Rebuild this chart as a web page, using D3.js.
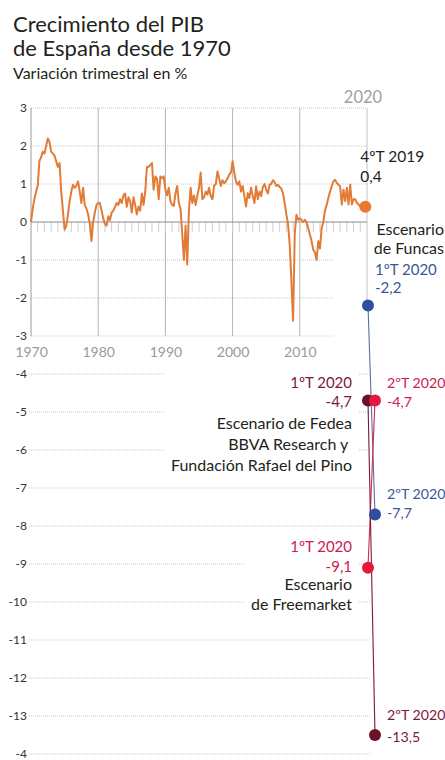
<!DOCTYPE html>
<html>
<head>
<meta charset="utf-8">
<script src="https://cdn.jsdelivr.net/npm/d3@7"></script>
<style>
  body { margin: 0; background: #fff; }
  text { font-family: Lato, "Open Sans", sans-serif; }
</style>
</head>
<body>
<svg id="chart"></svg>
<script>
// quarterly GDP growth, %
var gdp1970s = [0.0,0.35,0.6,0.8, 0.95,1.6,1.7,1.85, 1.8,2.0,2.2,2.1, 1.85,1.8,1.75,1.6,
  1.45,1.55,0.8,0.3, -0.2,-0.1,0.2,0.55, 0.8,0.98,0.9,0.95, 1.07,0.8,0.5,0.9,
  0.45,0.35,0.2,-0.05, -0.5,0.0,0.25,0.45];
var gdp1980s = [0.5,0.5,0.3,0.1, -0.05,-0.1,0.15,0.05, 0.25,0.3,0.4,0.5, 0.45,0.6,0.5,0.7,
  0.75,0.4,0.65,0.55, 0.25,0.65,0.45,0.2, 0.4,0.3,0.75,0.45, 0.8,1.45,1.45,1.5,
  1.55,0.85,1.2,1.15, 0.6,1.2,1.15,1.2];
var gdp1990s = [0.85,0.7,0.9,0.55, 0.45,0.42,0.75,0.95, 0.5,0.35,-0.3,-1.0, -0.1,-1.12,0.3,0.9,
  0.5,0.7,0.45,0.7, 0.9,1.3,0.6,0.65, 0.8,0.72,0.9,0.68, 0.6,0.95,1.0,1.33,
  1.15,0.95,1.1,1.02, 1.07,1.15,1.25,1.3];
var gdp2000s = [1.6,1.3,1.07,0.98, 1.07,0.8,0.95,0.68, 0.41,0.76,0.63,0.9, 0.68,0.5,0.94,0.6,
  0.8,0.68,0.92,1.0, 0.85,0.75,0.98,1.0, 1.1,1.05,0.95,0.98, 0.92,0.88,0.75,0.5,
  0.2,-0.05,-0.6,-1.56, -2.6,-0.3,0.19,0.06];
var gdp2010s = [0.1,0.06,0.0,0.06, 0.0,-0.16,-0.33,-0.5, -0.73,-0.8,-1.0,-0.5, -0.7,-0.16,0.0,0.3,
  0.45,0.63,0.8,0.94, 1.07,1.11,1.03,0.98, 0.94,0.46,0.85,0.55, 0.9,0.46,0.98,0.46,
  0.6,0.6,0.5,0.46, 0.41,0.42,0.4,0.4];

var startYear = 1970;
var decades = [1970, 1980, 1990, 2000, 2010];
var yTicks = [3,2,1,0,-1,-2,-3,-4,-5,-6,-7,-8,-9,-10,-11,-12,-13,-14];
var yTickLabels = ["3","2","1","0","-1","-2","-3","-4","-5","-6","-7","-8","-9","-10","-11","-12","-13","-4"];

// forecasts for 2020
var quarters = ["1ºT 2020", "2ºT 2020"];
var funcas = [-2.2, -7.7];
var fedea = [-4.7, -13.5];
var freemarket = [-9.1, -4.7];
var lastLabel = "4ºT 2019";

var W = 445, H = 760;
var svg = d3.select('#chart').attr('width', W).attr('height', H);

var x = d3.scaleLinear().domain([1970, 2020]).range([31, 367]);
var y = d3.scaleLinear().domain([3, -14]).range([108, 754]);
var xq = d3.scalePoint().domain(quarters).range([x(2020) + 1, x(2020) + 8]);
var fmt = function(v){ return String(v).replace('.', ','); };

var data = [].concat(gdp1970s, gdp1980s, gdp1990s, gdp2000s, gdp2010s).map(function(v, i){
  return {date: startYear + i/4, value: v};
});
var last = data[data.length-1];

// title
svg.append('text').attr('x',13).attr('y',32).attr('font-size',22).attr('fill','#231f20').text('Crecimiento del PIB');
svg.append('text').attr('x',13).attr('y',56).attr('font-size',22).attr('fill','#231f20').text('de España desde 1970');
svg.append('text').attr('x',13).attr('y',79).attr('font-size',16).attr('fill','#231f20').text('Variación trimestral en %');

var gridG = svg.append('g');
var maskG = svg.append('g');
var lineG = svg.append('g');
var dotG = svg.append('g');
var labelG = svg.append('g');

// horizontal grid
gridG.selectAll('.hgrid')
  .data(yTicks.filter(function(d){ return d !== 0; }))
  .enter().append('line')
  .attr('x1', function(d){ return d >= -3 ? x(1970) : 29; })
  .attr('x2', function(d){ return d > 0 ? x(2020) : (d >= -3 ? x(2015) : x(2020) + 4); })
  .attr('y1', function(d){ return y(d); })
  .attr('y2', function(d){ return y(d); })
  .attr('stroke', '#c8c8c8')
  .attr('stroke-dasharray', '1,1');

// decade lines
gridG.selectAll('.vgrid')
  .data(decades)
  .enter().append('line')
  .attr('x1', function(d){ return x(d); }).attr('x2', function(d){ return x(d); })
  .attr('y1', y(3)).attr('y2', y(-3))
  .attr('stroke', function(d){ return d === 1970 ? '#9a9a9a' : '#b4b4b4'; });

gridG.append('line')
  .attr('x1', x(2020)).attr('x2', x(2020))
  .attr('y1', y(3)).attr('y2', y(funcas[0]))
  .attr('stroke', '#c4c4c4');

// yearly ticks under zero line
gridG.selectAll('.ytick')
  .data(d3.range(1971, 2020))
  .enter().append('line')
  .attr('x1', function(d){ return x(d); }).attr('x2', function(d){ return x(d); })
  .attr('y1', y(0)).attr('y2', y(0) + 10)
  .attr('stroke', '#cfcfcf');

gridG.append('line')
  .attr('x1', x(1970)).attr('x2', x(2020))
  .attr('y1', y(0)).attr('y2', y(0))
  .attr('stroke', '#8c8c8c');

// y axis labels
var yAxis = svg.append('g')
  .attr('transform', 'translate(28,0)')
  .call(d3.axisLeft(y).tickValues(yTicks).tickSize(0).tickPadding(1)
    .tickFormat(function(d, i){ return yTickLabels[i]; }));
yAxis.select('.domain').remove();
yAxis.selectAll('text').attr('font-size', 12).attr('fill', '#333').style('font-family', 'Lato, sans-serif');

// x axis labels
var xAxis = svg.append('g')
  .attr('transform', 'translate(0,' + y(-3) + ')')
  .call(d3.axisBottom(x).tickValues(decades).tickSize(0).tickPadding(11).tickFormat(d3.format('d')));
xAxis.select('.domain').remove();
xAxis.selectAll('text').attr('font-size', 14).attr('fill', '#9a9a9a').style('font-family', 'Lato, sans-serif');

svg.append('text').attr('x', x(2020) - 4).attr('y', 103).attr('text-anchor', 'middle')
  .attr('font-size', 16.5).attr('fill', '#a0a0a0').text('2020');

// GDP line
var line = d3.line()
  .x(function(d){ return x(d.date); })
  .y(function(d){ return y(d.value); });

lineG.append('path')
  .datum(data)
  .attr('fill', 'none')
  .attr('stroke', '#e27b36')
  .attr('stroke-width', 2)
  .attr('stroke-linejoin', 'round')
  .attr('d', line);

dotG.append('circle').attr('cx', x(last.date)).attr('cy', y(last.value)).attr('r', 6).attr('fill', '#e8792f');

// scenarios
var scen = [
  {name: 'funcas', vals: funcas, dot: '#2f4e9e', stroke: '#5b6ea8', text: '#3b5798'},
  {name: 'freemarket', vals: freemarket, dot: '#e5193f', stroke: '#d6284f', text: '#c8204c'},
  {name: 'fedea', vals: fedea, dot: '#6b1128', stroke: '#7a1a35', text: '#7a1a35'}
];

var sline = d3.line()
  .x(function(d){ return xq(d.q); })
  .y(function(d){ return y(d.v); });

scen.forEach(function(s){
  var pts = s.vals.map(function(v, i){ return {q: quarters[i], v: v}; });
  lineG.append('path').datum(pts)
    .attr('fill', 'none').attr('stroke', s.stroke).attr('stroke-width', 1.1)
    .attr('d', sline);
});

// dots: maroon 1T under crimson 2T
var dotOrder = [
  {s: scen[0], i: 0}, {s: scen[0], i: 1},
  {s: scen[2], i: 0}, {s: scen[1], i: 1},
  {s: scen[1], i: 0}, {s: scen[2], i: 1}
];
dotOrder.forEach(function(d){
  dotG.append('circle')
    .attr('cx', xq(quarters[d.i])).attr('cy', y(d.s.vals[d.i]))
    .attr('r', 6).attr('fill', d.s.dot);
});

function block(lines, xPos, yPos, anchor, color, gap, size){
  var t = labelG.append('text')
    .attr('x', xPos).attr('y', yPos).attr('text-anchor', anchor)
    .attr('font-size', size || 15).attr('fill', color);
  lines.forEach(function(l, i){
    t.append('tspan').attr('x', xPos).attr('dy', i === 0 ? 0 : gap).text(l);
  });
  return t;
}

function mask(nodes){
  var b = nodes.map(function(n){ return n.node().getBBox(); });
  var x0 = d3.min(b, function(d){ return d.x; }), x1 = d3.max(b, function(d){ return d.x + d.width; });
  var y0 = d3.min(b, function(d){ return d.y; }), y1 = d3.max(b, function(d){ return d.y + d.height; });
  maskG.append('rect').attr('x', x0 - 6).attr('y', y0 - 2).attr('width', x1 - x0 + 12).attr('height', y1 - y0 + 2)
    .attr('fill', '#fff');
}

// last observed value
var ld = {x: x(last.date), y: y(last.value)};
block([lastLabel, fmt(last.value)], ld.x - 5, ld.y - 45, 'start', '#231f20', 20, 15.5);

// Funcas
var f1 = {x: xq(quarters[0]), y: y(funcas[0])};
block(['Escenario', 'de Funcas'], 444, f1.y - 71, 'end', '#231f20', 19, 16);
block([quarters[0], fmt(funcas[0])], f1.x + 7, f1.y - 31, 'start', scen[0].text, 18);
var f2 = {x: xq(quarters[1]), y: y(funcas[1])};
block([quarters[1], fmt(funcas[1])], f2.x + 12, f2.y - 16, 'start', scen[0].text, 19, 14.2);

// Fedea / BBVA / Rafael del Pino
var e1 = {x: xq(quarters[0]), y: y(fedea[0])};
var eA = block([quarters[0], fmt(fedea[0])], 352, e1.y - 13, 'end', scen[2].text, 19);
var eB = block(['Escenario de Fedea', 'BBVA Research y ', 'Fundación Rafael del Pino'], 352, e1.y + 28, 'end', '#231f20', 21, 16);
mask([eA, eB]);
var e2 = {x: xq(quarters[1]), y: y(fedea[1])};
block([quarters[1], fmt(fedea[1])], e2.x + 12, e2.y - 15, 'start', scen[2].text, 22, 14.2);

// Freemarket
var m1 = {x: xq(quarters[0]), y: y(freemarket[0])};
var mA = block([quarters[0], fmt(freemarket[0])], 352, m1.y - 16, 'end', scen[1].text, 20);
var mB = block(['Escenario', 'de Freemarket'], 352, m1.y + 22, 'end', '#231f20', 20, 16);
mask([mA, mB]);
var m2 = {x: xq(quarters[1]), y: y(freemarket[1])};
block([quarters[1], fmt(freemarket[1])], m2.x + 12, m2.y - 13, 'start', scen[1].text, 19, 14.2);
</script>
</body>
</html>
